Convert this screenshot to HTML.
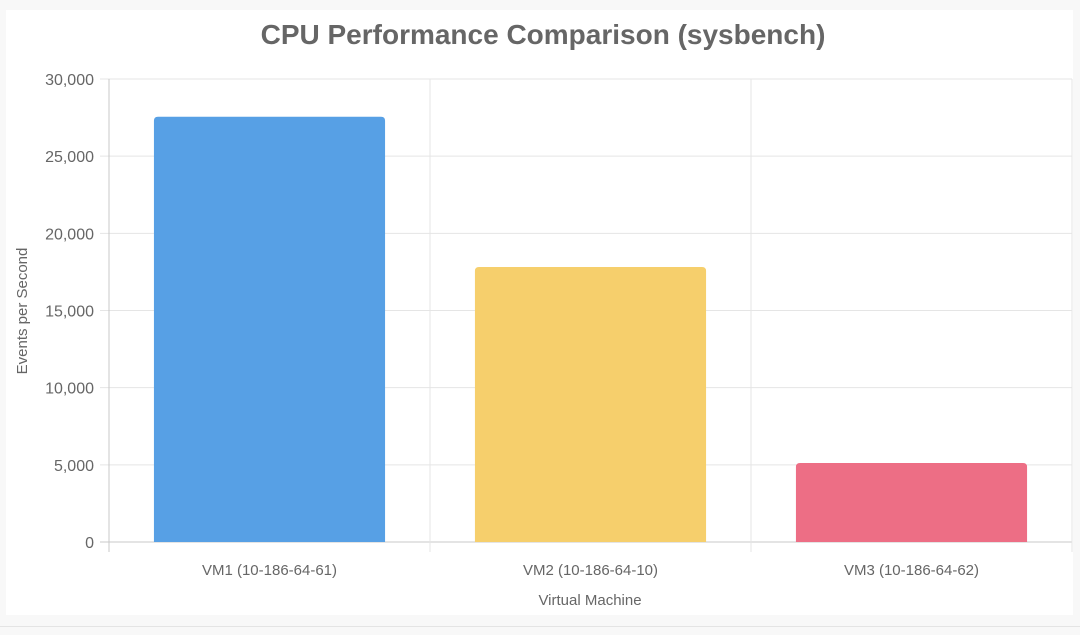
<!DOCTYPE html>
<html><head><meta charset="utf-8"><style>
html,body{margin:0;padding:0;background:#f8f8f8;}
body{width:1080px;height:635px;overflow:hidden;position:relative;font-family:"Liberation Sans",Arial,sans-serif;}
#card{position:absolute;left:6px;top:10px;width:1067px;height:605px;background:#fff;}
#foot{position:absolute;left:0;top:626px;width:1080px;height:1px;background:#e4e4e4;}
</style></head><body>
<div id="card"></div>
<div id="foot"></div>
<svg id="chart" width="1080" height="635" style="position:absolute;left:0;top:0">
<text x="543" y="44" text-anchor="middle" font-size="28" font-weight="bold" fill="#666">CPU Performance Comparison (sysbench)</text>
<text x="590" y="605" text-anchor="middle" font-size="15" fill="#666">Virtual Machine</text>
<text transform="translate(27,311) rotate(-90)" text-anchor="middle" font-size="15" fill="#666">Events per Second</text>
<g id="grid"></g><g id="bars"></g><g id="labels"></g>
</svg>
<script>
const categories = ["VM1 (10-186-64-61)", "VM2 (10-186-64-10)", "VM3 (10-186-64-62)"];
const values = [27550, 17820, 5120];
const colors = ["#57a0e5", "#f6cf6c", "#ed6e85"];
const yTicks = [0, 5000, 10000, 15000, 20000, 25000, 30000];
const yMax = 30000;

const NS = "http://www.w3.org/2000/svg";
const L = 109, R = 1072, T = 79, B = 542;
const y = v => B - (v / yMax) * (B - T);
const bw = (R - L) / categories.length;
const x = i => L + i * bw;
const grid = document.getElementById('grid'), bars = document.getElementById('bars'), labels = document.getElementById('labels');
function mk(tag, attrs, parent){const e=document.createElementNS(NS,tag);for(const k in attrs)e.setAttribute(k,attrs[k]);parent.appendChild(e);return e;}

yTicks.forEach(t => {
  const ln = mk('line',{x1:L-9,x2:R,y1:y(t),y2:y(t),stroke:t===0?'#c8c8c8':'#e5e5e5','stroke-width':1},grid);
  
  
  const tx = mk('text',{x:L-15,y:y(t)+6,'text-anchor':'end','font-size':16,fill:'#666'},labels);
  tx.textContent = t.toLocaleString('en-US');
  
  
});
for (let i = 0; i <= categories.length; i++) {
  const ln = mk('line',{x1:x(i),x2:x(i),y1:T,y2:B+10,stroke:i===0?'#c8c8c8':'#e5e5e5','stroke-width':1},grid);
  
  
}
categories.forEach((c, i) => {
  const w = bw * 0.72, bx = x(i) + (bw - w) / 2, top = y(values[i]), r = 4;
  const p = mk('path',{d:`M${bx},${B} V${top+r} Q${bx},${top} ${bx+r},${top} H${bx+w-r} Q${bx+w},${top} ${bx+w},${top+r} V${B} Z`,fill:colors[i]},bars);
  
  
  const tx = mk('text',{x:x(i)+bw/2,y:B+33,'text-anchor':'middle','font-size':15,fill:'#666'},labels);
  tx.textContent = c;
  
  
});
</script>
</body></html>
